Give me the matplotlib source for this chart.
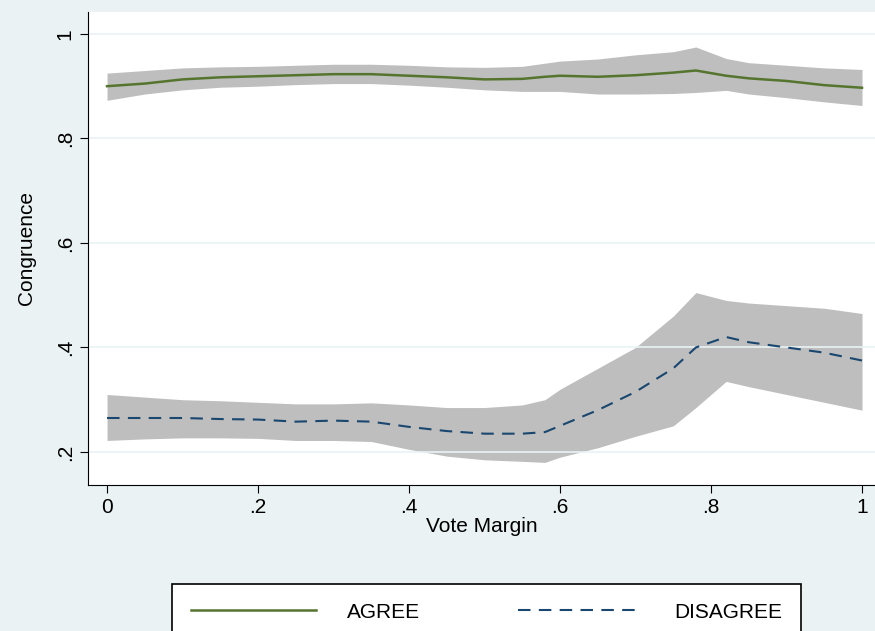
import matplotlib
matplotlib.use("Agg")
import matplotlib.pyplot as plt

plt.rcParams['font.family'] = ['Liberation Sans', 'DejaVu Sans']

vote_margin = [0, .05, .1, .15, .2, .25, .3, .35, .4, .45, .5, .55, .58, .6, .65, .7, .75, .78, .82, .85, .9, .95, 1]

agree = [.90, .905, .913, .917, .919, .921, .923, .923, .92, .917, .913, .914, .918, .92, .918, .921, .926, .93, .92, .915, .91, .902, .897]
agree_hi = [.925, .93, .935, .937, .938, .94, .942, .942, .94, .937, .936, .938, .944, .948, .952, .96, .966, .975, .953, .945, .94, .935, .932]
agree_lo = [.873, .885, .893, .898, .9, .903, .905, .905, .902, .898, .893, .89, .89, .89, .885, .885, .886, .888, .892, .885, .878, .87, .863]

disagree = [.265, .265, .265, .263, .262, .258, .26, .258, .248, .24, .235, .235, .238, .25, .28, .315, .36, .4, .42, .41, .4, .39, .375]
disagree_hi = [.31, .305, .3, .298, .295, .292, .292, .294, .29, .285, .285, .29, .3, .32, .36, .4, .46, .505, .49, .485, .48, .475, .465]
disagree_lo = [.222, .225, .227, .227, .226, .222, .222, .22, .205, .192, .185, .182, .18, .19, .208, .23, .25, .285, .335, .325, .31, .295, .28]

xticks = [0, .2, .4, .6, .8, 1]
xlabels = ['0', '.2', '.4', '.6', '.8', '1']
yticks = [.2, .4, .6, .8, 1]
ylabels = ['.2', '.4', '.6', '.8', '1']

bg = '#EAF2F3'
fig = plt.figure(figsize=(8.75, 6.31), dpi=100, facecolor=bg)
ax = fig.add_axes([0.1006, 0.2314, 0.8994, 0.7496])
ax.set_facecolor('white')

ax.fill_between(vote_margin, agree_lo, agree_hi, color='#BEBEBE', lw=0)
ax.fill_between(vote_margin, disagree_lo, disagree_hi, color='#BEBEBE', lw=0)
l1, = ax.plot(vote_margin, agree, color='#55752F', lw=1.8, label='AGREE')
l2, = ax.plot(vote_margin, disagree, color='#1A476F', lw=1.5, ls=(0, (6, 4)), label='DISAGREE')

ax.set_xlim(-0.0252, 1.0172)
ax.set_ylim(0.1368, 1.042)
ax.set_xticks(xticks, xlabels)
ax.set_yticks(yticks, ylabels)
for t in ax.get_yticklabels():
    t.set_rotation(90)
    t.set_va('center')
ax.tick_params(labelsize=15, length=6, color='black')
ax.yaxis.grid(True, color='#EAF2F3', lw=1.2)
for s in ['top', 'right']:
    ax.spines[s].set_visible(False)
ax.set_xlabel('Vote Margin', fontsize=15, labelpad=0)
ax.set_ylabel('Congruence', fontsize=15, labelpad=14)

leg = fig.legend(handles=[l1, l2], loc='center', ncol=2, fontsize=15,
                 bbox_to_anchor=(0.197, -0.03, 0.718, 0.12), mode='expand',
                 fancybox=False, edgecolor='black', framealpha=1,
                 handlelength=6, handletextpad=1.5, columnspacing=2.5,
                 borderaxespad=0, borderpad=0.9)
leg.get_frame().set_linewidth(1.2)

fig.savefig('out.png', dpi=100, facecolor=bg)
